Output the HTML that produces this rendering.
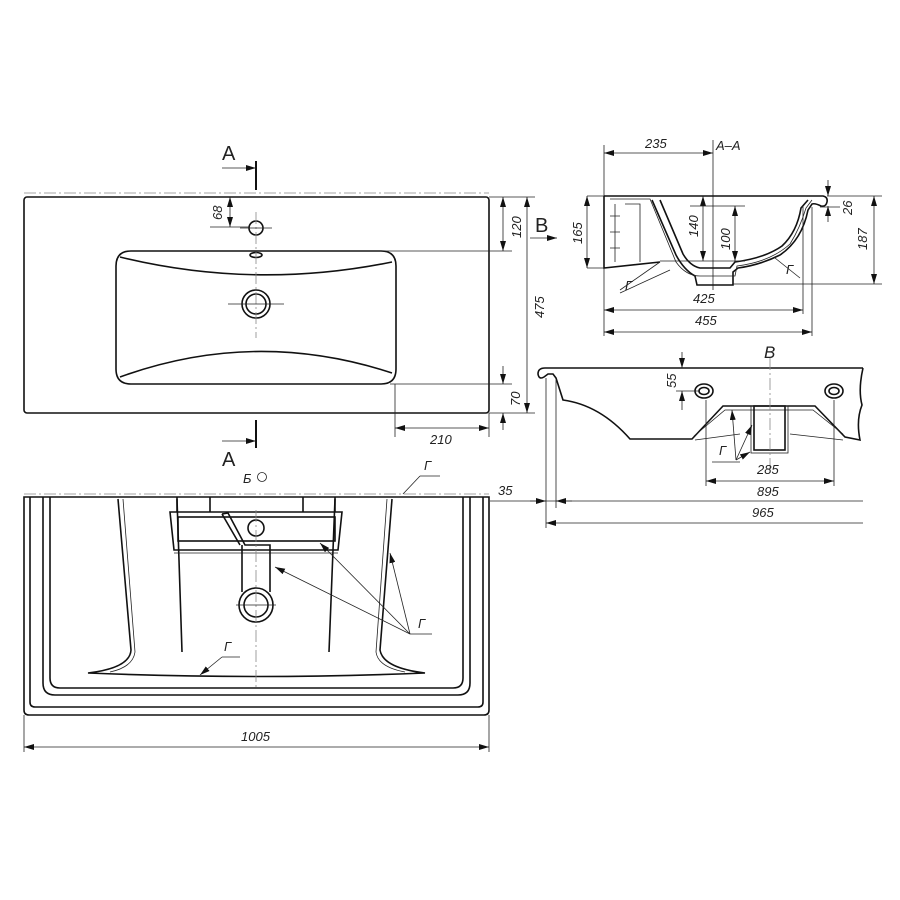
<!DOCTYPE html>
<html><head><meta charset="utf-8"><style>
html,body{margin:0;padding:0;background:#fff;width:900px;height:900px;overflow:hidden}
svg{display:block}
text{font-family:"Liberation Sans","DejaVu Sans",sans-serif;font-style:italic;font-size:13px;fill:#222}
.m{fill:none;stroke:#111;stroke-width:1.6}
.t{fill:none;stroke:#222;stroke-width:0.8}
.d{fill:none;stroke:#888;stroke-width:0.8;stroke-dasharray:12 3 2 3}
</style></head><body>
<svg width="900" height="900" viewBox="0 0 900 900" xmlns="http://www.w3.org/2000/svg">
<defs>
<marker id="a" viewBox="0 0 10 6" refX="10" refY="3" markerWidth="10" markerHeight="6" orient="auto-start-reverse" markerUnits="userSpaceOnUse"><path d="M0,0 L10,3 L0,6z" fill="#111"/></marker>
</defs>

<!-- TOP VIEW -->
<line class="d" x1="24" y1="193" x2="489" y2="193"/>
<rect class="m" x="24" y="197" width="465" height="216" rx="3"/>
<path class="m" d="M131,251 H381 Q396,251 396,266 V369 Q396,384 381,384 H131 Q116,384 116,369 V266 Q116,251 131,251Z"/>
<path class="m" d="M120,257 Q255,290 392,262"/>
<path class="m" d="M120,377 Q255,328 392,373"/>
<circle class="m" cx="256" cy="228" r="7"/>
<ellipse class="m" cx="256" cy="255" rx="6" ry="2.5"/>
<circle class="m" cx="256" cy="304" r="14"/>
<circle class="m" cx="256" cy="304" r="10"/>
<line class="d" x1="256" y1="212" x2="256" y2="338"/>
<line class="t" x1="240" y1="228" x2="272" y2="228"/>
<line class="t" x1="228" y1="304" x2="284" y2="304"/>
<line x1="256" y1="161" x2="256" y2="190" stroke="#111" stroke-width="2"/>
<line class="t" x1="222" y1="168" x2="256" y2="168" marker-end="url(#a)"/>
<text x="222" y="160" style="font-style:normal;font-size:20px">A</text>
<line x1="256" y1="420" x2="256" y2="448" stroke="#111" stroke-width="2"/>
<line class="t" x1="222" y1="441" x2="256" y2="441" marker-end="url(#a)"/>
<text x="222" y="466" style="font-style:normal;font-size:20px">A</text>
<line class="t" x1="210" y1="227" x2="250" y2="227"/>
<line class="t" x1="230" y1="197" x2="230" y2="227" marker-start="url(#a)" marker-end="url(#a)"/>
<text transform="translate(222,220) rotate(-90)">68</text>
<line class="t" x1="350" y1="251" x2="512" y2="251"/>
<line class="t" x1="489" y1="197" x2="535" y2="197"/>
<line class="t" x1="503" y1="197" x2="503" y2="251" marker-start="url(#a)" marker-end="url(#a)"/>
<text transform="translate(521,238) rotate(-90)">120</text>
<line class="t" x1="489" y1="413" x2="535" y2="413"/>
<line class="t" x1="527" y1="197" x2="527" y2="413" marker-start="url(#a)" marker-end="url(#a)"/>
<text transform="translate(544,318) rotate(-90)">475</text>
<line class="t" x1="390" y1="384" x2="512" y2="384"/>
<line class="t" x1="503" y1="366" x2="503" y2="384" marker-end="url(#a)"/>
<line class="t" x1="503" y1="430" x2="503" y2="413" marker-end="url(#a)"/>
<text transform="translate(520,406) rotate(-90)">70</text>
<line class="t" x1="395" y1="384" x2="395" y2="437"/>
<line class="t" x1="489" y1="413" x2="489" y2="437"/>
<line class="t" x1="395" y1="428" x2="489" y2="428" marker-start="url(#a)" marker-end="url(#a)"/>
<text x="430" y="444">210</text>
<text x="535" y="232" style="font-style:normal;font-size:20px">B</text>
<line class="t" x1="530" y1="238" x2="557" y2="238" marker-end="url(#a)"/>

<!-- SECTION A-A -->
<line class="t" x1="604" y1="145" x2="604" y2="196"/>
<line class="t" x1="604" y1="153" x2="713" y2="153" marker-start="url(#a)" marker-end="url(#a)"/>
<text x="645" y="148">235</text>
<text x="716" y="150">A–A</text>
<line class="t" x1="713" y1="140" x2="713" y2="290"/>
<path class="m" d="M604,196 H823 Q828,197 827,202 Q826,207 821,206 Q815,203 812,204 L808,210 Q802,240 780,255 Q760,265 738,268 L733,272 V285 H697 L695,276 Q684,270 676,255 L652,200"/>
<path class="m" d="M660,200 L683,254 Q690,266 700,268 H730 L735,262 Q765,258 782,246 Q797,232 801,208 L808,200"/>
<path class="m" d="M604,196 V268 L660,262"/>
<path class="t" d="M610,199 H650 L676,262 Q686,276 700,276 H735 L737,266 Q770,262 790,244 Q800,228 806,208 L812,200"/>
<path class="t" d="M615,204 V262 M610,216 H620 M610,232 H620 M610,248 H620 M625,204 H640 V262"/>
<line class="t" x1="660" y1="262" x2="620" y2="290"/>
<line class="t" x1="670" y1="270" x2="620" y2="293"/>
<text x="625" y="290">Г</text>
<line class="t" x1="775" y1="258" x2="800" y2="278"/>
<text x="786" y="274">Г</text>
<line class="t" x1="587" y1="196" x2="604" y2="196"/>
<line class="t" x1="587" y1="268" x2="604" y2="268"/>
<line class="t" x1="587" y1="196" x2="587" y2="268" marker-start="url(#a)" marker-end="url(#a)"/>
<text transform="translate(582,244) rotate(-90)">165</text>
<line class="t" x1="703" y1="196" x2="703" y2="261" marker-start="url(#a)" marker-end="url(#a)"/>
<text transform="translate(698,237) rotate(-90)">140</text>
<line class="t" x1="690" y1="206" x2="745" y2="206"/>
<line class="t" x1="735" y1="206" x2="735" y2="261" marker-start="url(#a)" marker-end="url(#a)"/>
<text transform="translate(730,250) rotate(-90)">100</text>
<line class="t" x1="660" y1="261" x2="745" y2="261"/>
<line class="t" x1="828" y1="180" x2="828" y2="196" marker-end="url(#a)"/>
<line class="t" x1="828" y1="222" x2="828" y2="206" marker-end="url(#a)"/>
<line class="t" x1="820" y1="207" x2="840" y2="207"/>
<text transform="translate(852,215) rotate(-90)">26</text>
<line class="t" x1="827" y1="196" x2="882" y2="196"/>
<line class="t" x1="733" y1="284" x2="882" y2="284"/>
<line class="t" x1="874" y1="196" x2="874" y2="284" marker-start="url(#a)" marker-end="url(#a)"/>
<text transform="translate(867,250) rotate(-90)">187</text>
<line class="t" x1="604" y1="268" x2="604" y2="336"/>
<line class="t" x1="803" y1="206" x2="803" y2="314"/>
<line class="t" x1="812" y1="207" x2="812" y2="336"/>
<line class="t" x1="604" y1="310" x2="803" y2="310" marker-start="url(#a)" marker-end="url(#a)"/>
<text x="693" y="303">425</text>
<line class="t" x1="604" y1="332" x2="812" y2="332" marker-start="url(#a)" marker-end="url(#a)"/>
<text x="695" y="325">455</text>

<!-- SIDE VIEW B -->
<path class="m" d="M863,368 H545 Q538,368 538,374 Q539,380 544,377 L548,374 H553 L556,378 L563,400 Q600,405 630,439 H692 L723,406 H815 L845,437 L860,440 Q856,420 862,405 Q858,390 863,368"/>
<path class="t" d="M694,436 L725,410 H813 L843,434"/>
<path class="t" d="M695,440 L740,434 M790,434 L843,440"/>
<rect class="m" x="754" y="406" width="31" height="44"/>
<rect class="t" x="751" y="406" width="37" height="47"/>
<ellipse class="m" cx="704" cy="391" rx="9" ry="7"/><ellipse class="m" cx="704" cy="391" rx="5" ry="3.5"/>
<ellipse class="m" cx="834" cy="391" rx="9" ry="7"/><ellipse class="m" cx="834" cy="391" rx="5" ry="3.5"/>
<text x="764" y="358" style="font-size:17px">B</text>
<line class="d" x1="770" y1="358" x2="770" y2="470"/>
<line class="t" x1="682" y1="352" x2="682" y2="368" marker-end="url(#a)"/>
<line class="t" x1="682" y1="410" x2="682" y2="391" marker-end="url(#a)"/>
<line class="t" x1="676" y1="391" x2="700" y2="391"/>
<text transform="translate(676,388) rotate(-90)">55</text>
<line class="t" x1="736" y1="460" x2="732" y2="410" marker-end="url(#a)"/>
<line class="t" x1="736" y1="460" x2="752" y2="425" marker-end="url(#a)"/>
<line class="t" x1="736" y1="460" x2="750" y2="452" marker-end="url(#a)"/>
<line class="t" x1="712" y1="462" x2="740" y2="462"/>
<text x="719" y="455">Г</text>
<text x="757" y="474">285</text>
<line class="t" x1="706" y1="400" x2="706" y2="486"/>
<line class="t" x1="834" y1="400" x2="834" y2="486"/>
<line class="t" x1="706" y1="481" x2="834" y2="481" marker-start="url(#a)" marker-end="url(#a)"/>
<text x="757" y="496">895</text>
<line class="t" x1="546" y1="378" x2="546" y2="528"/>
<line class="t" x1="556" y1="380" x2="556" y2="508"/>
<line class="t" x1="490" y1="501" x2="863" y2="501"/>
<line class="t" x1="530" y1="501" x2="546" y2="501" marker-end="url(#a)"/>
<line class="t" x1="572" y1="501" x2="556" y2="501" marker-end="url(#a)"/>
<text x="498" y="495">35</text>
<line class="t" x1="546" y1="523" x2="863" y2="523" marker-start="url(#a)"/>
<text x="752" y="517">965</text>

<!-- BOTTOM VIEW -->
<line class="d" x1="24" y1="494" x2="489" y2="494"/>
<path class="m" d="M24,497 H489 V710 Q489,715 484,715 H29 Q24,715 24,710Z"/>
<path class="m" d="M30,497 V702 Q30,707 35,707 H478 Q483,707 483,702 V497"/>
<path class="m" d="M43,497 V683 Q43,695 55,695 H458 Q470,695 470,683 V497"/>
<path class="m" d="M50,497 V678 Q50,688 60,688 H453 Q463,688 463,678 V497"/>
<path class="m" d="M118,499 L131,650 Q130,668 88,673 Q255,680 425,673 Q383,668 380,650 L392,499"/>
<path class="t" d="M123,499 L135,652 Q133,667 110,672 M387,499 L376,652 Q378,667 405,672"/>
<path class="m" d="M177,499 L182,652 M335,499 L329,652"/>
<path class="m" d="M177,497 V512 M210,497 V512 M303,497 V512 M335,497 V512"/>
<path class="m" d="M170,512 H342 L338,550 H174Z"/>
<rect class="m" x="178" y="517" width="157" height="24"/>
<line class="t" x1="174" y1="553" x2="338" y2="553"/>
<path class="m" d="M222,514 L228,513 L245,545 H270 V592 M242,545 V592 M222,514 L240,545"/>
<circle class="m" cx="256" cy="528" r="8"/>
<circle class="m" cx="256" cy="605" r="17"/>
<circle class="m" cx="256" cy="605" r="12"/>
<line class="d" x1="256" y1="510" x2="256" y2="690"/>
<line class="t" x1="236" y1="605" x2="276" y2="605"/>
<text x="243" y="483">Б</text>
<circle class="t" cx="262" cy="477" r="4.5"/>
<line class="t" x1="410" y1="634" x2="275" y2="567" marker-end="url(#a)"/>
<line class="t" x1="410" y1="634" x2="320" y2="543" marker-end="url(#a)"/>
<line class="t" x1="410" y1="634" x2="390" y2="553" marker-end="url(#a)"/>
<line class="t" x1="410" y1="634" x2="432" y2="634"/>
<text x="418" y="628">Г</text>
<line class="t" x1="403" y1="494" x2="420" y2="476"/>
<line class="t" x1="420" y1="476" x2="440" y2="476"/>
<text x="424" y="470">Г</text>
<line class="t" x1="222" y1="657" x2="200" y2="675" marker-end="url(#a)"/>
<line class="t" x1="222" y1="657" x2="240" y2="657"/>
<text x="224" y="651">Г</text>
<line class="t" x1="24" y1="715" x2="24" y2="752"/>
<line class="t" x1="489" y1="715" x2="489" y2="752"/>
<line class="t" x1="24" y1="747" x2="489" y2="747" marker-start="url(#a)" marker-end="url(#a)"/>
<text x="241" y="741">1005</text>
</svg>
</body></html>
